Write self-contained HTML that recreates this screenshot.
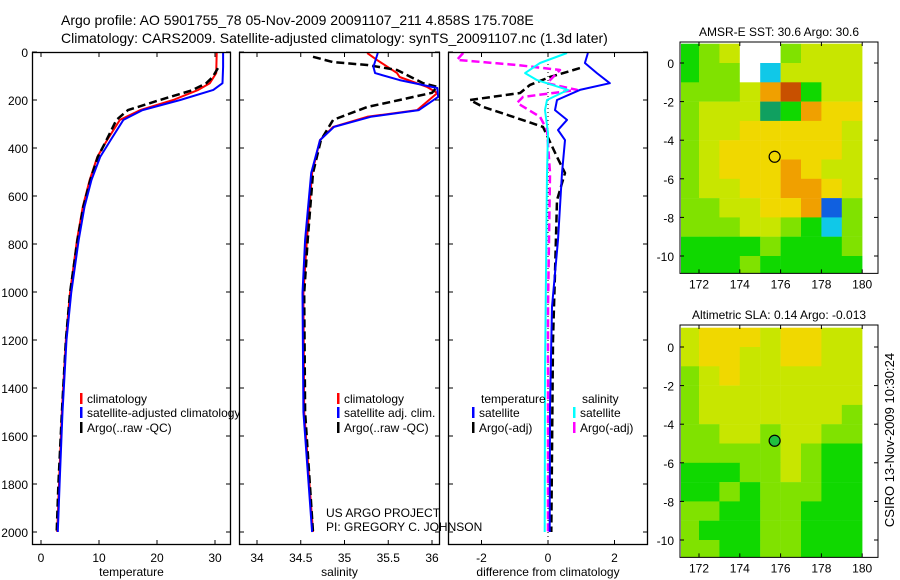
<!DOCTYPE html>
<html><head><meta charset="utf-8">
<style>
body{margin:0;background:#fff;}
svg{display:block;font-family:"Liberation Sans",sans-serif;}
text{fill:#000;}
</style></head>
<body>
<svg id="fig" width="900" height="580" viewBox="0 0 900 580">
<text x="61" y="25" font-size="14">Argo profile: AO 5901755_78 05-Nov-2009 20091107_211 4.858S 175.708E</text>
<text x="61" y="43" font-size="14">Climatology: CARS2009. Satellite-adjusted climatology: synTS_20091107.nc (1.3d later)</text>
</svg>
<script>
// ---------- data ----------
const depthTicks=[0,200,400,600,800,1000,1200,1400,1600,1800,2000];
const tempTicks=[0,10,20,30];
const salTicks=[34,34.5,35,35.5,36];
const diffTicks=[-2,0,2];
const tClimD=[4,88,130,158,200,242,283,367,437,533,645,783,1004,1200,1500,1800,2000];
const tClimV=[30.3,30.2,29.1,27.1,22.8,17.1,13.6,11.4,9.7,8.4,7.2,6.2,5.0,4.3,3.6,3.1,2.8];
const tSatD=[4,62,130,158,200,242,283,367,437,533,645,783,1004,1200,1500,1800,2000];
const tSatV=[31.4,31.4,31.3,29.7,24.0,17.5,14.2,12.0,10.2,8.7,7.5,6.5,5.2,4.4,3.7,3.2,2.9];
const tArgoD=[67,104,130,160,200,242,283,367,437,533,645,783,1004,1200,1500,1800,2000];
const tArgoV=[30.5,29.6,28.5,26.0,20.5,15.0,13.0,11.3,9.8,8.5,7.3,6.3,5.0,4.3,3.6,3.0,2.7];
const sClimD=[4,33,88,104,145,171,242,270,312,367,504,783,1004,1500,2000];
const sClimV=[35.26,35.37,35.6,35.63,35.94,36.06,35.83,35.26,34.87,34.72,34.63,34.57,34.53,34.54,34.64];
const sSatD=[4,62,88,117,150,187,242,270,312,367,504,783,1004,1500,2000];
const sSatV=[35.38,35.33,35.35,35.63,36.06,36.07,35.85,35.3,34.88,34.72,34.62,34.55,34.52,34.53,34.63];
const sArgoD=[20,42,54,75,130,145,170,200,229,283,367,504,783,1004,1500,2000];
const sArgoV=[34.64,34.87,35.26,35.6,35.9,36.06,36.0,35.63,35.26,34.87,34.73,34.64,34.58,34.54,34.55,34.64];
const dTSatD=[4,46,88,130,158,200,242,283,325,367,504,783,1062,1479,2000];
const dTSatV=[1.2,1.11,1.47,1.86,0.96,0.27,0.21,0.57,0.3,0.51,0.42,0.3,0.12,0.06,0.05];
const dTArgoD=[67,104,137,171,200,229,270,312,437,504,617,921,1200,2000];
const dTArgoV=[0.96,0.06,-0.54,-0.84,-2.35,-1.95,-1.05,-0.15,0.27,0.51,0.27,0.21,0.15,0.1];
const dSSatD=[4,46,88,117,158,200,242,337,504,1337,2000];
const dSSatV=[0.57,-0.24,-0.69,-0.33,0.6,-0.03,-0.09,0,-0.03,-0.09,-0.1];
const dSArgoD=[4,33,54,75,130,158,187,212,270,325,504,1062,2000];
const dSArgoV=[-2.55,-2.74,-0.93,0.36,-0.03,0.87,-0.75,-0.93,-0.24,-0.03,0.06,0,0];
const lonTicks=[172,174,176,178,180];
const latTicks=[0,-2,-4,-6,-8,-10];
const sstGrid=["glywwlyyy","gllwcyyyy","lllyorgyy","lyyytgoYY","lyyYYYYYy","lyYYYYYYy","lyYYYoYyy","lyyYYooYy","llyyYYobl","lllyylgcl","gggglgggl","ggglggggg"];
const slaGrid=["yYYYyYYyy","yYYyyYYyy","lyYyyyyyy","lyyyyyyyy","lyyyyyyyl","llyylyyll","lllllylgg","gggllylgg","gglglllgg","llggllggg","lgggllggg","llggllggg"];
const floatLon=175.708, floatLat=-4.858;
// ---------- helpers ----------
const NS="http://www.w3.org/2000/svg";
const svg=document.getElementById('fig');
function mk(tag,attrs,parent){const e=document.createElementNS(NS,tag);for(const k in attrs)e.setAttribute(k,attrs[k]);(parent||svg).appendChild(e);return e;}
function txt(x,y,s,size,anchor,name){const t=mk('text',{x:x,y:y,'font-size':size||12,'text-anchor':anchor||'start'});t.textContent=s;


return t;}
const yTop=52,yBot=545;
const yD=d=>yTop+d*0.24;
const panels=[
 {x0:32,x1:231,f:v=>41+(v-0)*5.8,ticks:tempTicks,label:'temperature',name:'temperature-panel'},
 {x0:239,x1:440,f:v=>257+(v-34)*87.5,ticks:salTicks,label:'salinity',name:'salinity-panel'},
 {x0:448,x1:648,f:v=>548+v*33.25,ticks:diffTicks,label:'difference from climatology',name:'difference-panel'}];
function line(p,D,V,color,w,dash,name){
 const pts=D.map((d,i)=>p.f(V[i]).toFixed(1)+','+yD(d).toFixed(1)).join(' ');
 const a={points:pts,fill:'none',stroke:color,'stroke-width':w,'stroke-linejoin':'round'};
 if(dash)a['stroke-dasharray']=dash;
 const l=mk('polyline',a,p.g);
 
 
}
panels.forEach((p,pi)=>{
 const g=mk('g',{});
 
 
 p.g=g;
 mk('rect',{x:p.x0,y:yTop,width:p.x1-p.x0,height:yBot-yTop,fill:'#fff'},g);
 const cp=mk('clipPath',{id:'cp'+pi},g);
 mk('rect',{x:p.x0,y:yTop,width:p.x1-p.x0,height:yBot-yTop},cp);
 p.cg=mk('g',{'clip-path':'url(#cp'+pi+')'},g);
 p.fg=mk('g',{},g);
 depthTicks.forEach(d=>{
  mk('line',{x1:p.x0,x2:p.x0+5,y1:yD(d),y2:yD(d),stroke:'#000'},p.fg);
  mk('line',{x1:p.x1-5,x2:p.x1,y1:yD(d),y2:yD(d),stroke:'#000'},p.fg);
  if(pi==0)txt(28,yD(d)+5,String(d),12,'end','depth-tick-label');
 });
 p.ticks.forEach(v=>{const x=p.f(v);
  mk('line',{x1:x,x2:x,y1:yTop,y2:yTop+5,stroke:'#000'},p.fg);
  mk('line',{x1:x,x2:x,y1:yBot-5,y2:yBot,stroke:'#000'},p.fg);
  txt(x,562,String(v),12,'middle','x-tick-label');});
 const fr=mk('rect',{x:p.x0+0.5,y:yTop+0.5,width:p.x1-p.x0-1,height:yBot-yTop-1,fill:'none',stroke:'#000','stroke-width':1.3},p.fg);
 
 
 txt((p.x0+p.x1)/2,576,p.label,12,'middle','x-axis-title');
});
function L(p,D,V,c,w,dash,n){const pp={f:p.f,g:p.cg};line(pp,D,V,c,w,dash,n);}
const [P1,P2,P3]=panels;
L(P1,tClimD,tClimV,'#f00',2,null,'temp-climatology-line');
L(P1,tArgoD,tArgoV,'#000',2.5,'8,4','temp-argo-line');
L(P1,tSatD,tSatV,'#00f',2,null,'temp-satellite-line');
L(P2,sClimD,sClimV,'#f00',2,null,'sal-climatology-line');
L(P2,sArgoD,sArgoV,'#000',2.5,'8,4','sal-argo-line');
L(P2,sSatD,sSatV,'#00f',2,null,'sal-satellite-line');
mk('line',{x1:548,x2:548,y1:yTop,y2:yBot,stroke:'#000','stroke-dasharray':'1,3'},P3.cg);
L(P3,dTArgoD,dTArgoV,'#000',2.5,'8,4','diff-temp-argo-line');
L(P3,dSArgoD,dSArgoV,'#f0f',2.5,'8,4','diff-sal-argo-line');
L(P3,dTSatD,dTSatV,'#00f',2,null,'diff-temp-satellite-line');
L(P3,dSSatD,dSSatV,'#0ff',2,null,'diff-sal-satellite-line');
// legends
function leg(x,y,c,s,n,g){mk('rect',{x:x,y:y-10,width:2.5,height:11,fill:c},g);const t=txt(x+7,y,s,12,'start',n);g.appendChild(t);}
leg(80,403,'#f00','climatology','legend-climatology',P1.g);
leg(80,417,'#00f','satellite-adjusted climatology','legend-satellite',P1.g);
leg(80,432,'#000','Argo(..raw -QC)','legend-argo',P1.g);
svg.appendChild(P2.g);svg.appendChild(P3.g);
leg(337,403,'#f00','climatology','legend-climatology-2',P2.g);
leg(337,417,'#00f','satellite adj. clim.','legend-satellite-2',P2.g);
leg(337,432,'#000','Argo(..raw -QC)','legend-argo-2',P2.g);
P3.g.appendChild(txt(481,403,'temperature',12,'start','legend-temperature-header'));
leg(472,417,'#00f','satellite','legend-temp-satellite',P3.g);
leg(472,432,'#000','Argo(-adj)','legend-temp-argo',P3.g);
P3.g.appendChild(txt(582,403,'salinity',12,'start','legend-salinity-header'));
leg(573,417,'#0ff','satellite','legend-sal-satellite',P3.g);
leg(573,432,'#f0f','Argo(-adj)','legend-sal-argo',P3.g);
txt(326,517,'US ARGO PROJECT',12,'start','project-credit');
txt(326,531,'PI: GREGORY C. JOHNSON',12,'start','pi-credit');
// ---------- maps ----------
const cols={g:'#10d800',l:'#80e200',y:'#c8e600',Y:'#f0d800',o:'#f0a000',r:'#c85000',w:'#ffffff',c:'#10c8e8',b:'#1060e0',t:'#10a060'};
function drawMap(grid,top,lat0y,title,name,filled){
 const g=mk('g',{});
 
 
 const bottom=lat0y+10.9*19.3;
 const lx=lon=>699+(lon-172)*20.4, ly=lat=>lat0y-lat*19.3;
 const cp=mk('clipPath',{id:'cp'+name},g);
 mk('rect',{x:681,y:top,width:182,height:bottom-top},cp);
 const cg=mk('g',{'clip-path':'url(#cp'+name+')'},g);
 grid.forEach((row,r)=>{[...row].forEach((ch,c)=>{
  const cell=mk('rect',{x:lx(171+c),y:ly(1-r),width:20.6,height:19.5,fill:cols[ch]},cg);
  
  
 });});
 mk('rect',{x:680,y:top,width:198,height:bottom-top,fill:'none',stroke:'#000'},g);
 lonTicks.forEach(v=>{mk('line',{x1:lx(v),x2:lx(v),y1:top,y2:top+4,stroke:'#000'},g);mk('line',{x1:lx(v),x2:lx(v),y1:bottom-4,y2:bottom,stroke:'#000'},g);
  g.appendChild(txt(lx(v),bottom+15,String(v),12,'middle','map-lon-label'));});
 latTicks.forEach(v=>{mk('line',{x1:680,x2:684,y1:ly(v),y2:ly(v),stroke:'#000'},g);mk('line',{x1:874,x2:878,y1:ly(v),y2:ly(v),stroke:'#000'},g);
  g.appendChild(txt(674,ly(v)+5,String(v),12,'end','map-lat-label'));});
 g.appendChild(txt(779,top-6,title,12,'middle','map-title'));
 const m=mk('circle',{cx:lx(floatLon),cy:ly(floatLat),r:5.5,fill:filled?'#20c040':'none',stroke:'#000','stroke-width':1.2},g);
 
 
}
drawMap(sstGrid,42,63,'AMSR-E SST: 30.6 Argo: 30.6','sst-map',false);
drawMap(slaGrid,325,347,'Altimetric SLA: 0.14 Argo: -0.013','sla-map',true);
const vt=txt(0,0,'CSIRO 13-Nov-2009 10:30:24',13,'middle','timestamp-label');
vt.setAttribute('transform','translate(894,440) rotate(-90)');
</script>
</body></html>
